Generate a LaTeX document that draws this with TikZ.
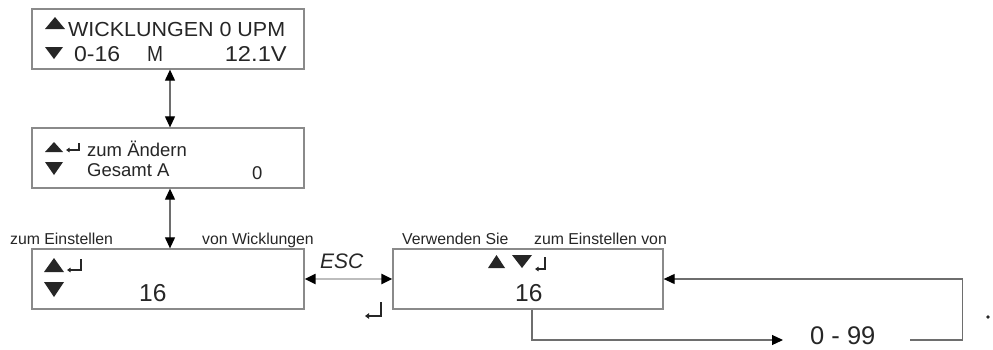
\documentclass[tikz,border=0pt]{standalone}
\usepackage{fontspec}
\setmainfont{Liberation Sans}
\usetikzlibrary{arrows.meta}
\definecolor{txt}{HTML}{262626}
\definecolor{boxgray}{HTML}{8A8A8A}
\definecolor{linegray}{HTML}{6E6E6E}
\definecolor{escgray}{HTML}{BDBDBD}
\tikzset{
  box/.style={draw=boxgray, line width=1.3pt, minimum width=272pt, minimum height=60pt, inner sep=0pt},
  lbl/.style={text=txt, inner sep=0pt, anchor=base west},
  conn/.style={draw=linegray, line width=1.1pt},
  tri/.style={fill=txt},
  ret/.style={draw=txt, line width=1.2pt, -{Triangle[length=3.5pt,width=4.5pt]}},
  big tip/.tip={Triangle[length=11pt,width=10pt,color=black]},
}
\newcommand{\fsz}[1]{\fontsize{#1}{#1}\selectfont}
\begin{document}
\begin{tikzpicture}[x=1pt,y=-1pt]
\useasboundingbox[fill=white] (0,0) rectangle (993,349);

% boxes
\node[box] (b1) at (168,39) {};
\node[box] (b2) at (168,158) {};
\node[box] (b3) at (168,279) {};
\node[box, minimum width=270pt] (b4) at (528,279) {};

% box 1
\fill[tri] (45,29) -- (65,29) -- (55,17) -- cycle;
\fill[tri] (45,47) -- (63,47) -- (54,59) -- cycle;
\node[lbl] (t1a) at (68,36.5) {\resizebox{217pt}{14.2pt}{\fsz{20}WICKLUNGEN 0 UPM}};
\node[lbl] (t1b) at (74,61.5) {\resizebox{46pt}{15pt}{\fsz{21}0-16}};
\node[lbl] (t1c) at (147,61.5) {\resizebox{16pt}{15pt}{\fsz{21}M}};
\node[lbl, anchor=base east] (t1d) at (287,61.5) {\resizebox{62pt}{15pt}{\fsz{21}12.1V}};

% box 2
\fill[tri] (45,152) -- (63,152) -- (54,142) -- cycle;
\fill[tri] (45,162) -- (63,162) -- (54,175) -- cycle;
\draw[ret] (79,143) -- (79,150) -- (66,150);
\node[lbl, font=\fsz{18.5}] (t2a) at (87,156) {zum Ändern};
\node[lbl, font=\fsz{18.5}] (t2b) at (87,176) {Gesamt A};
\node[lbl, font=\fsz{18.5}] (t2c) at (252,179) {0};

% box 3
\fill[tri] (44,272) -- (64,272) -- (54,258) -- cycle;
\fill[tri] (44,282) -- (64,282) -- (54,297) -- cycle;
\draw[ret] (81,259) -- (81,270) -- (67,270);
\node[lbl, font=\fsz{24.5}] (t3a) at (139,301) {16};
\node[lbl, font=\fsz{15.8}] (l3a) at (10,244.5) {zum Einstellen};
\node[lbl, font=\fsz{15.8}] (l3b) at (202,244.5) {von Wicklungen};

% box 4
\fill[tri] (488,268) -- (505,268) -- (496.5,255) -- cycle;
\fill[tri] (512,255) -- (532,255) -- (522,268) -- cycle;
\draw[ret] (545,257) -- (545,269) -- (535,269);
\node[lbl, font=\fsz{24.5}] (t4a) at (515,301) {16};
\node[lbl, font=\fsz{15.8}] (l4a) at (402,244.5) {Verwenden Sie};
\node[lbl, font=\fsz{15.8}] (l4b) at (534,244.5) {zum Einstellen von};

% ESC
\node[lbl, font=\fsz{21}\itshape] (esc) at (320,268) {ESC};
\draw[ret, line width=1.4pt, -{Triangle[length=4pt,width=5.5pt]}] (381,302) -- (381,316) -- (365,316);
\draw[draw=escgray, line width=2.2pt, big tip-big tip] (b3.east) -- (b4.west);

% vertical connectors
\draw[conn, big tip-big tip] ([xshift=2pt]b1.south) -- ([xshift=2pt]b2.north);
\draw[conn, big tip-big tip] ([xshift=2pt]b2.south) -- ([xshift=2pt]b3.north);

% range loop
\node[lbl, font=\fsz{25.5}, text depth=0pt] (range) at (810,344.5) {0 - 99};
\coordinate (rin) at (783,340);
\coordinate (rout) at (910,340);
\draw[conn, -big tip] ([xshift=4pt]b4.south) |- (rin);
\draw[conn, -big tip] (rout) -| ([xshift=299pt]b4.east) -- (b4.east);

% dot
\fill[txt] (988,317) circle (1.8pt);
\end{tikzpicture}
\end{document}
